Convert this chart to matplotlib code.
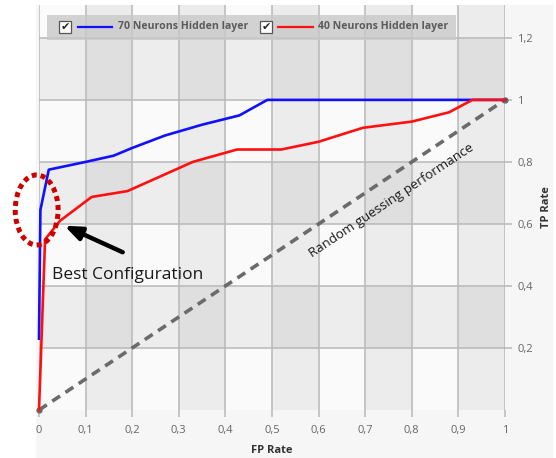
import matplotlib
matplotlib.use("Agg")
import matplotlib.pyplot as plt
from matplotlib.patches import Rectangle, Ellipse

plt.rcParams['font.family'] = ['Open Sans', 'DejaVu Sans']

# data
fp_70 = [0.0, 0.003, 0.021, 0.10, 0.16, 0.20, 0.27, 0.35, 0.43, 0.49, 0.93, 1.0]
tp_70 = [0.23, 0.645, 0.775, 0.80, 0.82, 0.845, 0.885, 0.92, 0.95, 1.0, 1.0, 1.0]
fp_40 = [0.0, 0.013, 0.045, 0.113, 0.19, 0.33, 0.425, 0.52, 0.60, 0.695, 0.80, 0.88, 0.93, 1.0]
tp_40 = [0.0, 0.55, 0.61, 0.687, 0.706, 0.80, 0.84, 0.84, 0.865, 0.91, 0.93, 0.96, 1.0, 1.0]
rand_x = [0.0, 1.0]
rand_y = [0.0, 1.0]
x_ticks = [0, 0.1, 0.2, 0.3, 0.4, 0.5, 0.6, 0.7, 0.8, 0.9, 1]
y_ticks = [0.2, 0.4, 0.6, 0.8, 1.0, 1.2]
labels = ['70 Neurons Hidden layer', '40 Neurons Hidden layer']

W, H = 556, 458
fig = plt.figure(figsize=(W / 100, H / 100), dpi=100)
fig.patch.set_facecolor('white')


def px(x, y):
    return (x / W, 1 - y / H)


# light panel behind the chart
fig.patches.append(Rectangle(px(36, 458), 517 / W, 453 / H, transform=fig.transFigure,
                             facecolor='#f6f6f6', edgecolor='none', zorder=-5))

ax = fig.add_axes([39 / W, 48 / H, 466 / W, 405 / H])
ax.set_xlim(0, 1)
ax.set_ylim(0, 1.306)
ax.set_facecolor('#fafafa')

# checkered background bands
for i in range(1, 10, 2):
    ax.axvspan(x_ticks[i], x_ticks[i + 1], color='#000000', alpha=0.055, lw=0, zorder=0)
for lo in [0.2, 0.6, 1.0]:
    ax.axhspan(lo, lo + 0.2, color='#000000', alpha=0.05, lw=0, zorder=0)

ax.grid(True, color='#b8b8b8', lw=1.1)
ax.set_axisbelow(True)
for s in ax.spines.values():
    s.set_visible(False)

ax.set_xticks(x_ticks)
ax.set_xticklabels([('%g' % v).replace('.', ',') for v in x_ticks])
ax.set_yticks(y_ticks)
ax.set_yticklabels([('%g' % v).replace('.', ',') for v in y_ticks])
ax.yaxis.tick_right()
ax.yaxis.set_label_position('right')
ax.tick_params(axis='both', colors='#b8b8b8', labelcolor='#666666', labelsize=8, length=5, width=1.1)
ax.tick_params(axis='x', pad=6)
ax.tick_params(axis='y', pad=4)

ax.set_xlabel('FP Rate', fontsize=8, fontweight='bold', color='#333333', labelpad=6)
ax.set_ylabel('TP Rate', fontsize=8, fontweight='bold', color='#333333', labelpad=6, rotation=90)

# curves
ax.plot(rand_x, rand_y, color='#6b6b6b', lw=2.6, linestyle=(0, (2.6, 1.8)),
        marker='o', markersize=3.5, zorder=3, clip_on=False)
ax.plot(fp_70, tp_70, color='#1010ff', lw=1.9, zorder=4, clip_on=False)
ax.plot(fp_40, tp_40, color='#ff1010', lw=1.9, zorder=5, clip_on=False)

ax.text(0.757, 0.677, 'Random guessing performance', rotation=33.7, fontsize=9.5,
        color='#1a1a1a', ha='center', va='center', rotation_mode='anchor')

# annotation
ax.annotate('', xy=(fp_40[2] + 0.004, tp_40[2] - 0.012), xytext=(0.185, 0.505),
            arrowprops=dict(arrowstyle='-|>,head_length=1.0,head_width=0.4', color='black', lw=3.2))
ax.text(0.027, 0.435, 'Best Configuration', fontsize=12.5, color='#1a1a1a', ha='left', va='center')
ax.add_patch(Ellipse((-0.005, 0.645), 0.092, 0.226, fill=False, edgecolor='#cc0000',
                     lw=3.6, linestyle=(0, (1, 0.8)), clip_on=False, zorder=6))

# legend drawn like the original checkbox legend
fig.patches.append(Rectangle(px(47, 40), 409 / W, 25 / H, transform=fig.transFigure,
                             facecolor='#c8c8c8', alpha=0.8, edgecolor='none', zorder=10))
for (cx, lx0, lx1, tx), col, lab in zip([(59, 78, 112, 118), (260, 278, 313, 318)],
                                        ['#1010ff', '#ff1010'], labels):
    fig.patches.append(Rectangle(px(cx, 33), 12 / W, 12 / H, transform=fig.transFigure,
                                 facecolor='white', edgecolor='#555555', lw=0.9, zorder=11))
    fig.text(*px(cx + 6, 27), '\u2714', fontsize=8, color='#222222',
             ha='center', va='center', zorder=12, family=['DejaVu Sans'])
    fig.lines.append(plt.Line2D([lx0 / W, lx1 / W], [1 - 27 / H, 1 - 27 / H], transform=fig.transFigure,
                                color=col, lw=1.6, zorder=11))
    fig.text(*px(tx, 27), lab, fontsize=7.6, fontweight='bold', color='#5a5a5a',
             ha='left', va='center', zorder=12)

fig.savefig('out.png', dpi=100)
